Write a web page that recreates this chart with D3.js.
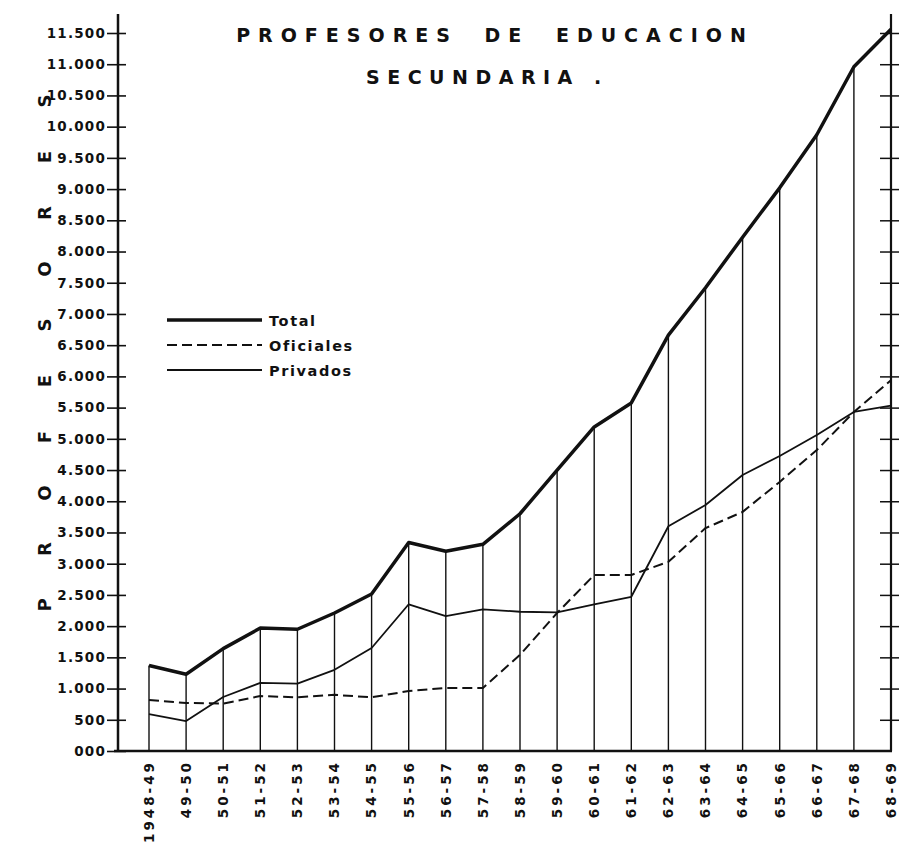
<!DOCTYPE html>
<html>
<head>
<meta charset="utf-8">
<script src="https://cdn.jsdelivr.net/npm/d3@7"></script>
<style>
	body { margin: 0; background: #fff; }
	svg { display: block; }
	text { font-family: "DejaVu Sans", sans-serif; font-weight: bold; fill: #111; }
</style>
</head>
<body>
<svg id="chart" width="907" height="845"></svg>
<script>
// Años escolares
var cursos = ["1948-49", "49-50", "50-51", "51-52", "52-53", "53-54", "54-55", "55-56", "56-57", "57-58",
	"58-59", "59-60", "60-61", "61-62", "62-63", "63-64", "64-65", "65-66", "66-67", "67-68", "68-69"];

var total = [1370, 1230, 1640, 1970, 1950, 2210, 2515, 3340, 3200, 3310,
	3800, 4500, 5190, 5575, 6660, 7420, 8230, 9020, 9870, 10960, 11560];

var oficiales = [815, 770, 760, 880, 860, 900, 860, 960, 1010, 1010,
	1540, 2210, 2820, 2820, 3030, 3570, 3830, 4310, 4820, 5430, 5940];

var privados = [590, 480, 865, 1090, 1080, 1300, 1650, 2350, 2160, 2270,
	2230, 2220, 2350, 2470, 3600, 3940, 4420, 4725, 5060, 5430, 5530];

var yTicks = d3.range(0, 11501, 500);
var titleLetters = "PROFESORES".split("");

var legendItems = [
	{ name: "Total", values: total, width: 3.5, dash: null },
	{ name: "Oficiales", values: oficiales, width: 2, dash: "10,5" },
	{ name: "Privados", values: privados, width: 1.8, dash: null }
];

var svg = d3.select("#chart");

var x = d3.scalePoint().domain(cursos).range([149, 891]);
var y = d3.scaleLinear().domain([0, 11500]).range([751, 33]);

var fmt = function(v)
{
	if (v === 0) return "000";
	return d3.format(",")(v).replace(/,/g, ".");
};

// Vertical drop lines to the total
svg.append("g").selectAll("line")
	.data(cursos)
	.enter().append("line")
	.attr("x1", function(d) { return x(d); })
	.attr("x2", function(d) { return x(d); })
	.attr("y1", y(0))
	.attr("y2", function(d, i) { return y(total[i]); })
	.attr("stroke", "#111")
	.attr("stroke-width", 1.4);

// Left axis
var leftAxis = svg.append("g")
	.attr("transform", "translate(118,0)")
	.call(d3.axisLeft(y).tickValues(yTicks).tickFormat(fmt).tickSize(11).tickPadding(1));
leftAxis.select(".domain").remove();
leftAxis.selectAll(".tick line").attr("x1", 8).attr("stroke", "#111").attr("stroke-width", 1.6);
leftAxis.selectAll(".tick text")
	.attr("font-size", 13.5)
	.attr("letter-spacing", 1.2)
	.style("font-family", "'DejaVu Sans', sans-serif")
	.style("font-weight", "bold")
	.attr("fill", "#111");

// Right axis (ticks only)
var rightAxis = svg.append("g")
	.attr("transform", "translate(" + x(cursos[cursos.length - 1]) + ",0)")
	.call(d3.axisRight(y).tickValues(yTicks.filter(function(v) { return v > 0; })).tickFormat("").tickSize(8));
rightAxis.select(".domain").remove();
rightAxis.selectAll(".tick line").attr("x1", -11).attr("stroke", "#111").attr("stroke-width", 1.5);

// Axis frame lines
svg.append("line").attr("x1", 118).attr("x2", 118).attr("y1", 14).attr("y2", y(0))
	.attr("stroke", "#111").attr("stroke-width", 2.5);
svg.append("line").attr("x1", 114).attr("x2", x(cursos[cursos.length - 1]) + 1).attr("y1", y(0)).attr("y2", y(0))
	.attr("stroke", "#111").attr("stroke-width", 2.5);
svg.append("line").attr("x1", x(cursos[cursos.length - 1])).attr("x2", x(cursos[cursos.length - 1]))
	.attr("y1", 14).attr("y2", y(0))
	.attr("stroke", "#111").attr("stroke-width", 2.2);

// X labels
svg.append("g").selectAll("text")
	.data(cursos)
	.enter().append("text")
	.attr("transform", function(d) { return "translate(" + x(d) + ",760) rotate(-90)"; })
	.attr("text-anchor", "end")
	.attr("dy", "0.36em")
	.attr("font-size", 13.5)
	.attr("letter-spacing", 3)
	.text(function(d) { return d; });

// Series lines
var line = d3.line()
	.x(function(d, i) { return x(cursos[i]); })
	.y(function(d) { return y(d); });

svg.append("g").selectAll("path")
	.data(legendItems)
	.enter().append("path")
	.attr("d", function(d) { return line(d.values); })
	.attr("fill", "none")
	.attr("stroke", "#111")
	.attr("stroke-width", function(d) { return d.width; })
	.attr("stroke-dasharray", function(d) { return d.dash; })
	.attr("stroke-linejoin", "round");

// Legend
var legend = svg.append("g").selectAll("g")
	.data(legendItems)
	.enter().append("g")
	.attr("transform", function(d, i) { return "translate(167," + (320 + i * 25) + ")"; });

legend.append("line")
	.attr("x1", 0).attr("x2", 95)
	.attr("stroke", "#111")
	.attr("stroke-width", function(d) { return d.width; })
	.attr("stroke-dasharray", function(d) { return d.dash; });

legend.append("text")
	.attr("x", 102)
	.attr("dy", "0.38em")
	.attr("font-size", 14.5)
	.attr("letter-spacing", 1.6)
	.text(function(d) { return d.name; });

// Title
svg.append("text")
	.attr("x", 495).attr("y", 42)
	.attr("text-anchor", "middle")
	.attr("font-size", 19)
	.attr("letter-spacing", 8)
	.attr("word-spacing", 12)
	.text("PROFESORES DE EDUCACION");

svg.append("text")
	.attr("x", 366).attr("y", 84)
	.attr("font-size", 19)
	.attr("letter-spacing", 7.5)
	.text("SECUNDARIA .");

// Vertical axis title, one letter at a time
svg.append("g").selectAll("text")
	.data(titleLetters)
	.enter().append("text")
	.attr("transform", function(d, i) { return "translate(45," + (605 - i * 56) + ") rotate(-90)"; })
	.attr("text-anchor", "middle")
	.attr("dy", "0.36em")
	.attr("font-size", 18)
	.text(function(d) { return d; });
</script>
</body>
</html>
